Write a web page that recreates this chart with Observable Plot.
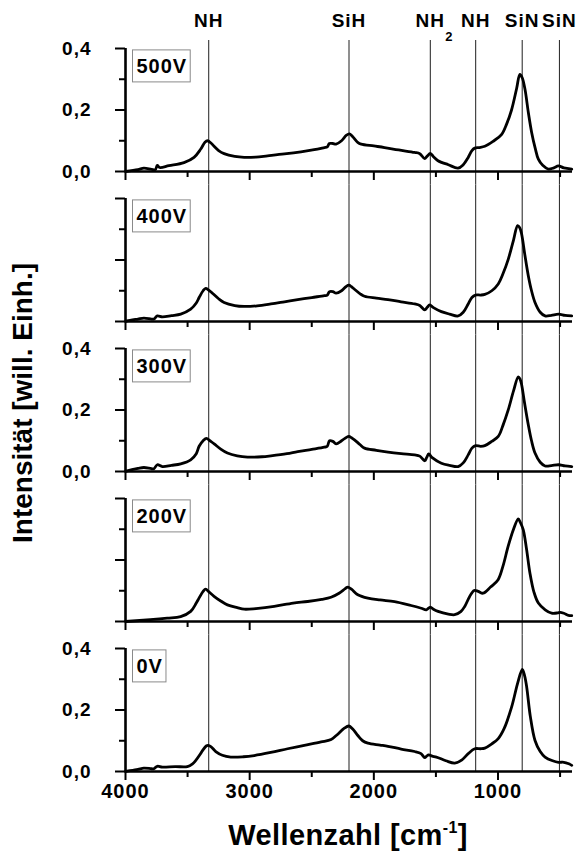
<!DOCTYPE html>
<html><head><meta charset="utf-8">
<script src="https://cdn.jsdelivr.net/npm/d3@7"></script>
<script src="https://cdn.jsdelivr.net/npm/@observablehq/plot@0.6"></script>
<style>
body{margin:0;background:#fff;}
#wrap{position:relative;width:576px;height:859px;font-family:"Liberation Sans",Arial,sans-serif;font-weight:bold;color:#000;overflow:hidden;}
#wrap svg{position:absolute;left:0;top:0;}
#wrap svg text{letter-spacing:1px;}
#xtitle{position:absolute;left:0;width:696px;top:819px;text-align:center;font-size:29px;line-height:normal;white-space:nowrap;letter-spacing:0.4px;}
#xtitle sup{font-size:0.55em;vertical-align:0.75em;line-height:0;}
#ytitle{position:absolute;left:-177px;top:387px;width:400px;height:32px;line-height:32px;text-align:center;font-size:28px;transform:rotate(-90deg);white-space:nowrap;}
</style></head><body>
<div id="wrap"><div id="xtitle">Wellenzahl [cm<sup>-1</sup>]</div><div id="ytitle">Intensität [will. Einh.]</div></div>
<script>
const panels = ["500V","400V","300V","200V","0V"];
const labeledPanels = ["500V","300V","0V"];

const peakWn = [3330, 2200, 1545, 1180, 805, 505];
const peakLabels = ["NH", "SiH", "NH", "NH", "SiN", "SiN"];
const subscriptIndex = 2; // NH2

const yMajor = [0, 0.2, 0.4];
const yMinor = [0.1, 0.3];
const yTickLabels = ["0,0", "0,2", "0,4"];
const xMajor = [4000, 3000, 2000, 1000];
const xMinor = [3500, 2500, 1500, 500];
const xTickLabels = ["4000", "3000", "2000", "1000"];

const v500 = [[4000,0],[3900,0.006],[3852,0.011],[3790,0.007],[3760,0.006],[3744,0.02],[3725,0.013],[3650,0.019],[3529,0.029],[3448,0.046],[3394,0.073],[3360,0.095],[3340,0.1],[3310,0.092],[3287,0.082],[3250,0.068],[3206,0.058],[3120,0.049],[3044,0.046],[2950,0.047],[2856,0.051],[2720,0.057],[2587,0.064],[2480,0.071],[2398,0.078],[2375,0.08],[2358,0.091],[2330,0.091],[2304,0.089],[2260,0.1],[2220,0.118],[2196,0.122],[2170,0.113],[2130,0.095],[2102,0.089],[2000,0.083],[1914,0.078],[1800,0.07],[1672,0.062],[1630,0.058],[1591,0.042],[1570,0.05],[1545,0.059],[1520,0.048],[1483,0.035],[1400,0.022],[1322,0.011],[1280,0.022],[1241,0.045],[1210,0.068],[1187,0.076],[1150,0.078],[1106,0.082],[1040,0.098],[972,0.12],[930,0.155],[891,0.2],[850,0.27],[824,0.316],[805,0.305],[783,0.268],[755,0.19],[729,0.127],[700,0.075],[675,0.04],[640,0.02],[595,0.008],[550,0.012],[514,0.018],[470,0.012],[406,0.008]];
const v400 = [[4000,0],[3986,0.002],[3900,0.008],[3852,0.011],[3790,0.008],[3771,0.008],[3744,0.018],[3703,0.015],[3630,0.019],[3555,0.024],[3475,0.04],[3430,0.06],[3407,0.078],[3375,0.1],[3354,0.108],[3330,0.102],[3300,0.092],[3250,0.074],[3206,0.062],[3120,0.052],[3044,0.049],[2940,0.051],[2829,0.057],[2720,0.064],[2613,0.071],[2500,0.078],[2398,0.084],[2375,0.086],[2357,0.097],[2330,0.097],[2304,0.092],[2260,0.1],[2225,0.113],[2201,0.118],[2180,0.113],[2156,0.105],[2110,0.09],[2075,0.082],[1980,0.076],[1886,0.071],[1780,0.064],[1671,0.057],[1630,0.052],[1590,0.038],[1570,0.046],[1550,0.054],[1520,0.045],[1456,0.032],[1390,0.024],[1321,0.018],[1280,0.03],[1240,0.057],[1210,0.078],[1181,0.086],[1140,0.086],[1106,0.088],[1050,0.1],[998,0.122],[960,0.155],[917,0.203],[875,0.265],[842,0.312],[825,0.305],[810,0.285],[785,0.22],[756,0.149],[730,0.1],[702,0.062],[660,0.03],[621,0.018],[570,0.02],[513,0.024],[460,0.02],[406,0.018]];
const v300 = [[4000,0],[3986,0.002],[3900,0.01],[3852,0.013],[3790,0.009],[3771,0.009],[3744,0.022],[3703,0.016],[3630,0.02],[3555,0.025],[3475,0.038],[3430,0.058],[3407,0.082],[3375,0.1],[3348,0.108],[3320,0.1],[3286,0.09],[3230,0.072],[3179,0.06],[3100,0.051],[3017,0.047],[2900,0.048],[2829,0.051],[2700,0.058],[2613,0.065],[2500,0.072],[2398,0.079],[2375,0.082],[2357,0.1],[2330,0.098],[2304,0.09],[2260,0.1],[2225,0.11],[2201,0.114],[2180,0.11],[2156,0.103],[2110,0.087],[2075,0.076],[1980,0.069],[1886,0.063],[1780,0.058],[1671,0.054],[1630,0.05],[1590,0.035],[1575,0.045],[1558,0.057],[1530,0.045],[1456,0.027],[1390,0.02],[1321,0.016],[1280,0.028],[1240,0.054],[1210,0.076],[1181,0.084],[1140,0.082],[1106,0.084],[1050,0.098],[998,0.114],[960,0.15],[917,0.201],[875,0.262],[837,0.308],[822,0.3],[810,0.283],[785,0.22],[756,0.152],[730,0.1],[702,0.06],[660,0.03],[621,0.018],[570,0.019],[513,0.022],[460,0.018],[406,0.016]];
const v200 = [[4000,0],[3800,0.006],[3664,0.011],[3556,0.016],[3475,0.033],[3430,0.06],[3408,0.076],[3375,0.098],[3354,0.105],[3330,0.097],[3287,0.082],[3230,0.066],[3179,0.054],[3100,0.045],[3044,0.04],[2950,0.042],[2802,0.049],[2650,0.06],[2533,0.065],[2420,0.072],[2345,0.079],[2280,0.092],[2230,0.107],[2210,0.112],[2180,0.105],[2129,0.087],[2048,0.076],[1950,0.07],[1833,0.065],[1700,0.052],[1618,0.043],[1577,0.038],[1545,0.047],[1520,0.04],[1483,0.033],[1400,0.024],[1349,0.022],[1300,0.032],[1268,0.049],[1230,0.08],[1192,0.101],[1160,0.098],[1120,0.092],[1060,0.112],[999,0.136],[960,0.18],[918,0.245],[875,0.3],[837,0.334],[820,0.322],[797,0.299],[770,0.235],[743,0.158],[710,0.095],[675,0.06],[620,0.038],[568,0.027],[520,0.028],[500,0.03],[470,0.027],[433,0.02],[406,0.019]];
const v0 = [[4000,0],[3986,0.001],[3900,0.007],[3852,0.011],[3790,0.009],[3771,0.009],[3744,0.017],[3703,0.014],[3600,0.016],[3502,0.016],[3460,0.025],[3434,0.036],[3400,0.055],[3380,0.068],[3350,0.083],[3335,0.085],[3310,0.08],[3273,0.065],[3220,0.053],[3152,0.047],[3050,0.048],[2963,0.052],[2830,0.062],[2694,0.074],[2560,0.085],[2425,0.096],[2344,0.104],[2300,0.118],[2240,0.14],[2201,0.148],[2170,0.138],[2129,0.117],[2090,0.1],[2048,0.092],[1950,0.086],[1886,0.082],[1780,0.073],[1671,0.065],[1620,0.058],[1590,0.045],[1575,0.05],[1558,0.054],[1530,0.05],[1496,0.047],[1420,0.035],[1348,0.027],[1290,0.038],[1240,0.058],[1187,0.074],[1140,0.074],[1106,0.076],[1050,0.09],[998,0.107],[950,0.14],[890,0.21],[840,0.29],[804,0.332],[785,0.31],[769,0.275],[740,0.18],[702,0.101],[660,0.065],[621,0.047],[560,0.035],[513,0.03],[470,0.03],[430,0.025],[406,0.02]];

const spectra = {"500V": v500, "400V": v400, "300V": v300, "200V": v200, "0V": v0};

const W = 576, H = 859, MT = 48, MB = 88, ML = 125, MR = 4;
const padInner = 0.18;
const L = H - MT - MB;
const step = L / (panels.length - padInner);
const bw = step * (1 - padInner);
const perPx = 0.4 / bw;
const halfGap = (step - bw) / 2 * perPx;
const topExt = 8 * perPx;

const lineData = panels.flatMap(p => spectra[p].map(([wn, v]) => ({panel: p, wn, v})));
const ruleData = panels.flatMap((p, i) => peakWn.map(wn => ({
  panel: p, wn,
  y1: i === panels.length - 1 ? 0 : -halfGap,
  y2: i === 0 ? 0.4 + topExt : 0.4 + halfGap
})));
const yLabelData = labeledPanels.flatMap(p => yMajor.map((v, i) => ({panel: p, v, t: yTickLabels[i]})));
const peakData = peakWn.map((wn, i) => ({wn, t: peakLabels[i]}));
const topPanel = () => panels[0];

const chart = Plot.plot({
  width: W, height: H,
  marginTop: MT, marginBottom: MB, marginLeft: ML, marginRight: MR,
  style: {fontFamily: '"Liberation Sans", Arial, sans-serif', fontWeight: "bold", fontSize: "19px", color: "#000", background: "transparent", overflow: "visible"},
  x: {domain: [4000, 400]},
  y: {domain: [0, 0.4]},
  fy: {domain: panels, axis: null, paddingInner: padInner, paddingOuter: 0, round: false},
  marks: [
    Plot.ruleX(ruleData, {x: "wn", y1: "y1", y2: "y2", fy: "panel", stroke: "#333", strokeWidth: 1.1}),
    Plot.axisX({ticks: xMajor, tickSize: 9, tickFormat: () => "", facetAnchor: null, label: null, strokeWidth: 2}),
    Plot.axisX({ticks: xMinor, tickSize: 6, tickFormat: () => "", facetAnchor: null, label: null, strokeWidth: 2}),
    Plot.axisX({ticks: xMajor, tickSize: 0, tickPadding: 12, tickFormat: d => xTickLabels[xMajor.indexOf(d)], label: null, fontSize: 20, fontWeight: "bold"}),
    Plot.axisY({ticks: yMajor, tickSize: 10, tickFormat: () => "", label: null, strokeWidth: 2}),
    Plot.axisY({ticks: yMinor, tickSize: 6, tickFormat: () => "", label: null, strokeWidth: 2}),
    Plot.ruleY(panels, {fy: d => d, y: 0, stroke: "#000", strokeWidth: 2.6}),
    Plot.ruleX(panels, {fy: d => d, x: 4000, y1: 0, y2: 0.4, stroke: "#000", strokeWidth: 2.6}),
    Plot.text(yLabelData, {fy: "panel", y: "v", text: "t", frameAnchor: "left", dx: -34, textAnchor: "end", lineAnchor: "middle", fontSize: 19, fontWeight: "bold"}),
    Plot.line(lineData, {x: "wn", y: "v", fy: "panel", curve: "catmull-rom", stroke: "#000", strokeWidth: 2.8, strokeLinejoin: "round"}),
    Plot.text(panels, {fy: d => d, text: d => d, frameAnchor: "top-left", dx: 11, dy: 18, textAnchor: "start", lineAnchor: "middle", fontSize: 20, fontWeight: "bold"}),
    Plot.text(peakData, {x: "wn", text: "t", fy: topPanel, frameAnchor: "top", dy: -22, lineAnchor: "bottom", fontSize: 19, fontWeight: "bold"}),
    Plot.text([peakWn[subscriptIndex]], {x: d => d, text: () => "2", fy: topPanel, frameAnchor: "top", dx: 15, dy: -8, lineAnchor: "bottom", textAnchor: "start", fontSize: 13, fontWeight: "bold"})
  ]
});

const wrap = document.getElementById("wrap");
wrap.insertBefore(chart, wrap.firstChild);

// draw boxes around the panel labels
const panelSet = new Set(panels);
Array.from(chart.querySelectorAll("text")).filter(t => panelSet.has(t.textContent.trim())).forEach(t => {
  const b = t.getBBox();
  const r = document.createElementNS("http://www.w3.org/2000/svg", "rect");
  const px = 4, py = 5;
  r.setAttribute("x", b.x - px);
  r.setAttribute("y", b.y - py);
  r.setAttribute("width", b.width + 2 * px - 1);
  r.setAttribute("height", b.height + 2 * py);
  r.setAttribute("fill", "#fff");
  r.setAttribute("stroke", "#8a8a8a");
  r.setAttribute("stroke-width", 1);
  const tr = t.getAttribute("transform");
  if (tr) r.setAttribute("transform", tr);
  t.parentNode.insertBefore(r, t);
});
</script>
</body></html>
